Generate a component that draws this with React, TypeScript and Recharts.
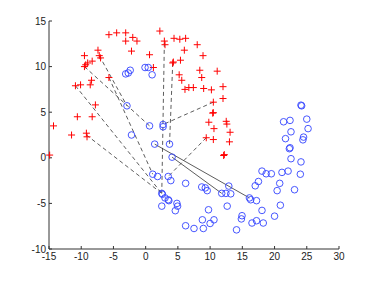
import { ScatterChart, Scatter, XAxis, YAxis, ReferenceLine } from "recharts";

const xTicks = [-15, -10, -5, 0, 5, 10, 15, 20, 25, 30];
const yTicks = [-10, -5, 0, 5, 10, 15];

// red "+" points
const redPoints = [
  { x: -14.3, y: 3.5 }, { x: -14.9, y: 0.3 }, { x: -11.5, y: 2.5 }, { x: -9.2, y: 2.7 },
  { x: -9.1, y: 2.3 }, { x: -10.6, y: 4.5 }, { x: -10.9, y: 7.9 }, { x: -10.1, y: 8.0 },
  { x: -8.4, y: 8.5 }, { x: -8.6, y: 8.0 }, { x: -7.8, y: 5.8 }, { x: -8.3, y: 4.5 },
  { x: -9.5, y: 10.0 }, { x: -9.3, y: 10.2 }, { x: -9.0, y: 10.4 }, { x: -8.3, y: 10.6 },
  { x: -9.5, y: 11.2 }, { x: -7.4, y: 11.8 }, { x: -7.2, y: 11.2 }, { x: -7.0, y: 10.95 },
  { x: -5.7, y: 8.8 }, { x: -5.7, y: 13.5 }, { x: -4.5, y: 13.7 }, { x: -3.1, y: 13.7 },
  { x: -3.1, y: 12.8 }, { x: -2.0, y: 13.2 }, { x: -1.35, y: 12.8 }, { x: -2.2, y: 11.7 },
  { x: 0.6, y: 11.3 }, { x: 1.2, y: 9.9 }, { x: 2.2, y: 13.9 }, { x: 2.9, y: 12.8 },
  { x: 3.0, y: 12.4 }, { x: 4.2, y: 10.4 }, { x: 4.3, y: 10.5 }, { x: 4.4, y: 13.1 },
  { x: 5.3, y: 13.0 }, { x: 6.2, y: 13.1 }, { x: 5.4, y: 10.7 }, { x: 6.0, y: 11.8 },
  { x: 5.2, y: 9.1 }, { x: 5.6, y: 8.5 }, { x: 6.1, y: 7.5 }, { x: 8.0, y: 12.4 },
  { x: 8.9, y: 11.2 }, { x: 8.4, y: 9.6 }, { x: 11.1, y: 9.5 }, { x: 8.7, y: 8.8 },
  { x: 6.7, y: 7.7 }, { x: 7.4, y: 7.7 }, { x: 9.0, y: 7.6 }, { x: 10.2, y: 7.45 },
  { x: 12.0, y: 7.8 }, { x: 12.0, y: 6.5 }, { x: 10.5, y: 6.1 }, { x: 10.4, y: 4.9 },
  { x: 10.5, y: 4.95 }, { x: 9.8, y: 3.9 }, { x: 10.6, y: 3.2 }, { x: 12.5, y: 4.0 },
  { x: 12.6, y: 3.7 }, { x: 13.1, y: 2.8 }, { x: 9.4, y: 2.2 }, { x: 10.5, y: 2.0 },
  { x: 13.0, y: 1.75 }, { x: 12.2, y: 0.35 }, { x: 12.1, y: 0.25 },
];

// blue "o" points
const bluePoints = [
  { x: -3.1, y: 9.2 }, { x: -2.7, y: 9.3 }, { x: -2.4, y: 9.6 }, { x: -0.1, y: 9.9 },
  { x: 0.4, y: 9.9 }, { x: 1.0, y: 9.1 }, { x: -2.9, y: 5.7 }, { x: 0.6, y: 3.5 },
  { x: 2.7, y: 3.65 }, { x: 2.7, y: 3.4 }, { x: -2.2, y: 2.5 }, { x: 1.4, y: 1.5 },
  { x: 3.7, y: 1.5 }, { x: 4.1, y: 0.07 }, { x: 1.1, y: -1.8 }, { x: 1.85, y: -2.05 },
  { x: 3.5, y: -2.05 }, { x: 3.9, y: -2.5 }, { x: 2.5, y: -3.9 }, { x: 2.6, y: -4.0 },
  { x: 3.0, y: -4.4 }, { x: 3.5, y: -4.6 }, { x: 3.6, y: -4.7 }, { x: 2.5, y: -5.3 },
  { x: 4.85, y: -5.0 }, { x: 4.95, y: -5.3 }, { x: 4.6, y: -5.8 }, { x: 6.2, y: -2.8 },
  { x: 6.2, y: -7.45 }, { x: 8.7, y: -3.2 }, { x: 9.25, y: -3.3 }, { x: 9.55, y: -3.6 },
  { x: 11.8, y: -3.9 }, { x: 12.45, y: -3.9 }, { x: 13.2, y: -3.95 }, { x: 12.9, y: -3.1 },
  { x: 16.1, y: -4.4 }, { x: 16.3, y: -4.6 }, { x: 17.2, y: -4.7 }, { x: 17.0, y: -3.07 },
  { x: 17.5, y: -2.6 }, { x: 18.05, y: -1.46 }, { x: 18.7, y: -1.75 }, { x: 19.5, y: -1.75 },
  { x: 21.15, y: -1.6 }, { x: 22.1, y: -1.46 }, { x: 20.8, y: -2.8 }, { x: 20.4, y: -3.6 },
  { x: 20.9, y: -5.2 }, { x: 23.1, y: -3.5 }, { x: 24.0, y: -1.8 }, { x: 24.1, y: -0.45 },
  { x: 22.55, y: -0.1 }, { x: 22.3, y: 1.0 }, { x: 22.4, y: 1.1 }, { x: 24.5, y: 2.27 },
  { x: 24.4, y: 1.97 }, { x: 21.7, y: 2.1 }, { x: 22.55, y: 2.85 }, { x: 21.4, y: 3.95 },
  { x: 22.4, y: 4.1 }, { x: 25.0, y: 4.24 }, { x: 25.2, y: 3.2 }, { x: 24.1, y: 5.77 },
  { x: 24.2, y: 5.7 }, { x: 9.75, y: -5.7 }, { x: 12.65, y: -5.3 }, { x: 8.8, y: -6.8 },
  { x: 10.6, y: -6.8 }, { x: 10.0, y: -7.2 }, { x: 8.95, y: -7.75 }, { x: 7.5, y: -7.75 },
  { x: 14.1, y: -7.9 }, { x: 14.95, y: -6.35 }, { x: 14.85, y: -6.7 }, { x: 16.5, y: -7.15 },
  { x: 17.2, y: -6.9 }, { x: 18.25, y: -7.15 }, { x: 18.05, y: -5.77 }, { x: 20.0, y: -6.4 },
];

// dashed links red -> blue
const dashedLinks = [
  [{ x: -9.5, y: 10.0 }, { x: 0.6, y: 3.5 }],
  [{ x: -7.2, y: 11.2 }, { x: -2.9, y: 5.7 }],
  [{ x: -10.9, y: 7.9 }, { x: 2.5, y: -3.9 }],
  [{ x: -9.2, y: 2.5 }, { x: 2.5, y: -3.9 }],
  [{ x: -5.7, y: 8.8 }, { x: 1.1, y: -1.8 }],
  [{ x: 2.9, y: 12.6 }, { x: 2.5, y: -3.9 }],
  [{ x: 4.2, y: 10.4 }, { x: 3.7, y: 1.5 }],
  [{ x: 10.5, y: 6.1 }, { x: 2.7, y: 3.65 }],
  [{ x: 9.4, y: 2.2 }, { x: 3.5, y: -2.05 }],
];

// solid links blue -> blue
const solidLinks = [
  [{ x: 1.4, y: 1.5 }, { x: 16.1, y: -4.4 }],
  [{ x: 4.1, y: 0.07 }, { x: 11.8, y: -3.9 }],
];

const tickStyle = { fontFamily: "Liberation Sans, Arial, sans-serif", fontSize: 10, fill: "#222" };

const Plus = (props: any) => {
  const { cx, cy } = props;
  return (
    <g stroke="#ff0000" strokeWidth={1}>
      <line x1={cx - 3.5} y1={cy} x2={cx + 3.5} y2={cy} />
      <line x1={cx} y1={cy - 3.5} x2={cx} y2={cy + 3.5} />
    </g>
  );
};

const Ring = (props: any) => {
  const { cx, cy } = props;
  return <circle cx={cx} cy={cy} r={3.3} fill="none" stroke="#3344ff" strokeWidth={0.9} />;
};

export default function App() {
  return (
    <div style={{ position: "absolute", left: 0, top: 0, width: 374, height: 281, background: "#fff" }}>
      <ScatterChart width={374} height={281} margin={{ top: 21, right: 35, left: 0, bottom: 0 }}>
        <XAxis
          type="number"
          dataKey="x"
          domain={[-15, 30]}
          ticks={xTicks}
          interval={0}
          height={32}
          tickSize={-3}
          tickMargin={7}
          tick={tickStyle}
          axisLine={{ stroke: "#333" }}
          tickLine={{ stroke: "#333" }}
        />
        <YAxis
          type="number"
          dataKey="y"
          domain={[-10, 15]}
          ticks={yTicks}
          interval={0}
          width={49}
          tickSize={-3}
          tickMargin={6}
          tick={tickStyle}
          axisLine={{ stroke: "#333" }}
          tickLine={{ stroke: "#333" }}
        />
        <Scatter data={redPoints} shape={Plus} isAnimationActive={false} />
        <Scatter data={bluePoints} shape={Ring} isAnimationActive={false} />
        {dashedLinks.map((seg, i) => (
          <ReferenceLine key={"d" + i} segment={seg} stroke="#333" strokeWidth={0.8} strokeDasharray="4 3" />
        ))}
        {solidLinks.map((seg, i) => (
          <ReferenceLine key={"s" + i} segment={seg} stroke="#333" strokeWidth={0.8} />
        ))}
      </ScatterChart>
    </div>
  );
}
